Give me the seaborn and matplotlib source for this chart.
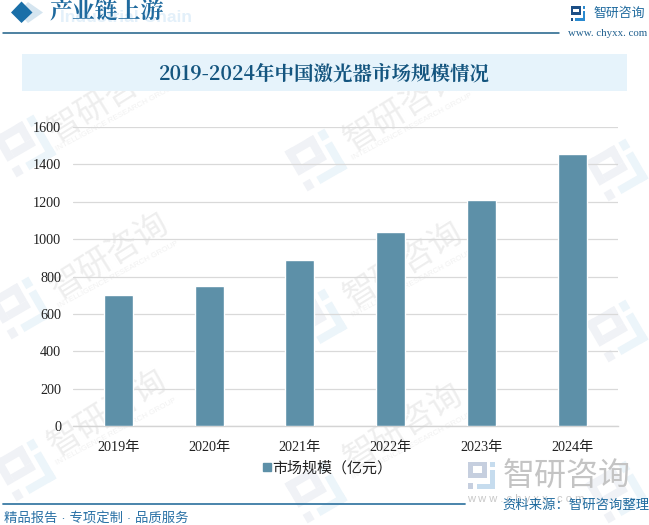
import matplotlib
matplotlib.use("Agg")
import matplotlib.pyplot as plt
import matplotlib.patches as mp
import matplotlib.transforms as mtrans
import pandas as pd
import seaborn as sns

years = ["2019年", "2020年", "2021年", "2022年", "2023年", "2024年"]
values = [703, 750, 890, 1040, 1211, 1457]
yticks = [0, 200, 400, 600, 800, 1000, 1200, 1400, 1600]
series_name = "市场规模（亿元）"
title = "2019-2024年中国激光器市场规模情况"
header = "产业链上游"
header_en = "Industrial Chain"
brand = "智研咨询"
brand_en = "INTELLIGENCE RESEARCH GROUP"
site = "www. chyxx. com"
site_spaced = "w w w . c h y x x . c o m"
slogan = "精品报告 · 专项定制 · 品质服务"
source = "资料来源：智研咨询整理"

W, H = 649, 525
SERIF = ["Noto Serif CJK SC", "Noto Sans CJK SC", "DejaVu Sans"]
SANS = ["Noto Sans CJK SC", "DejaVu Sans"]
TICK = ["Liberation Serif", "Noto Sans CJK SC"]
BAR = "#5d90a8"
sns.set_theme(style="white")
plt.rcParams["font.family"] = SANS

fig = plt.figure(figsize=(W / 100, H / 100), dpi=100, facecolor="white")
bg = fig.add_axes([0, 0, 1, 1], zorder=0)
bg.set_xlim(0, W); bg.set_ylim(H, 0); bg.axis("off")

# logo pieces in a 14 x 14 box
LOGO_DARK = [(0, 0, 10, 2.5), (0, 0, 2.5, 8.5), (7.5, 0, 2.5, 6), (2.5, 6, 7.5, 2.5), (0, 11, 2.5, 3)]
LOGO_LIGHT = [(11.5, 0, 2.5, 3), (11.5, 4.5, 2.5, 9.5), (4.5, 11.5, 9.5, 2.5)]


def logo(cx, cy, size, dark, light, angle=0.0, z=1):
    s = size / 14
    t = (mtrans.Affine2D().translate(-7, -7).scale(s).rotate_deg(angle).translate(cx, cy)) + bg.transData
    for pieces, col in ((LOGO_DARK, dark), (LOGO_LIGHT, light)):
        for x, y, w, h in pieces:
            bg.add_patch(mp.Rectangle((x, y), w, h, fc=col, ec="none", transform=t, zorder=z))


# watermark tiles
for cx, cy in [(25, 146), (316, 160), (617, 170), (20, 308), (316, 320), (617, 331),
               (25, 470), (316, 492), (617, 492)]:
    logo(cx, cy, 46, "#f0f2f6", "#ecf5fa", angle=-30)
for cx, cy in [(108, 99), (404, 108), (110, 256), (404, 265), (108, 413), (404, 427)]:
    bg.text(cx, cy, brand, fontsize=24, color="#eeeeee", rotation=32, ha="center", va="center",
            family=SANS, zorder=1)
    bg.text(cx + 8, cy + 19, brand_en, fontsize=5.8, color="#f1f1f1", rotation=28, ha="center",
            va="center", family=["Liberation Sans"], zorder=1)

# header
bg.text(60, 17, header_en, fontsize=12.6, color="#e3f0fa", weight="bold", ha="left", va="center",
        family=["Liberation Sans"], zorder=2)
bg.add_patch(mp.Polygon([[28, 2], [43, 12.5], [28, 23], [18, 12.5]], fc="#d5e5f0", ec="none", zorder=2))
bg.add_patch(mp.Polygon([[21.5, 1.5], [32.5, 12.5], [21.5, 23], [11, 12.5]], fc="#1a6fa8", ec="none", zorder=3))
bg.text(49, 12, header, fontsize=16.5, color="#1f6a9e", weight="bold", ha="left", va="center",
        family=SERIF, zorder=3)
bg.plot([3, 559], [33.4, 33.4], color="#1d5f88", lw=1.1, zorder=3)

# logo top right
logo(578, 13.5, 14.5, "#1c4f86", "#2a8ad0", z=3)
bg.text(593, 13, brand, fontsize=9.3, color="#1f6a9e", ha="left", va="center", family=SANS, zorder=3)
bg.text(568, 33, site, fontsize=7.8, color="#1f5f8e", ha="left", va="center",
        family=["Liberation Serif"], zorder=3)

# title banner
bg.add_patch(mp.Rectangle((22, 54), 605, 37, fc="#e6f3fb", ec="none", zorder=2))
bg.text(324.5, 74, title, fontsize=14, color="#14557f", weight="bold", ha="center", va="center",
        family=SERIF, zorder=3)

# footer
bg.plot([3, 465], [504, 504], color="#3a7ba5", lw=1.3, zorder=3)
bg.text(4, 518, slogan, fontsize=9.6, color="#2b72a6", ha="left", va="center",
        family=["Liberation Sans", "Noto Sans CJK SC"], zorder=3)
logo(481.5, 475, 27, "#c6cfdf", "#c6dcee", z=3)
bg.text(503, 476, brand, fontsize=23, color="#c4c4c4", ha="left", va="center", family=SANS, zorder=3)
bg.text(467, 499, site_spaced, fontsize=8, color="#c8c8c8", ha="left", va="center",
        family=["Liberation Sans"], zorder=3)
bg.text(502, 505, source, fontsize=9.6, color="#1f6a9e", ha="left", va="center", family=SANS, zorder=4)

# chart
ax = fig.add_axes([73 / W, 1 - 426 / H, 544.7 / W, 299 / H], zorder=5)
ax.patch.set_alpha(0)
df = pd.DataFrame({"year": years, "value": values, "series": series_name})
sns.barplot(data=df, x="year", y="value", hue="series", palette=[BAR], width=0.32,
            ax=ax, saturation=1, zorder=3, legend=False)
ax.set_ylim(0, 1600)
ax.set_yticks(yticks)
ax.set_xlim(-0.5, 5.5)
ax.set_xlabel(""); ax.set_ylabel("")
ax.grid(axis="y", color="#d9d9d9", lw=0.9, zorder=0)
ax.grid(axis="x", visible=False)
sns.despine(ax=ax, left=True)
ax.spines["bottom"].set_color("#d4d4d4")
ax.spines["bottom"].set_linewidth(1)
ax.tick_params(axis="both", length=0, labelsize=10.2, labelcolor="#222222")
ax.tick_params(axis="y", pad=8.6)
ax.tick_params(axis="x", pad=10.5)
for lab in ax.get_xticklabels() + ax.get_yticklabels():
    lab.set_family(TICK)

handle = mp.Patch(color=BAR, label=series_name)
fig.legend(handles=[handle], loc="center", bbox_to_anchor=(327.5 / W, 1 - 468 / H), frameon=False,
           fontsize=10.8, handlelength=0.5, handleheight=0.5, handletextpad=0.1,
           labelcolor="#222222")

fig.savefig("out.png", dpi=100)
